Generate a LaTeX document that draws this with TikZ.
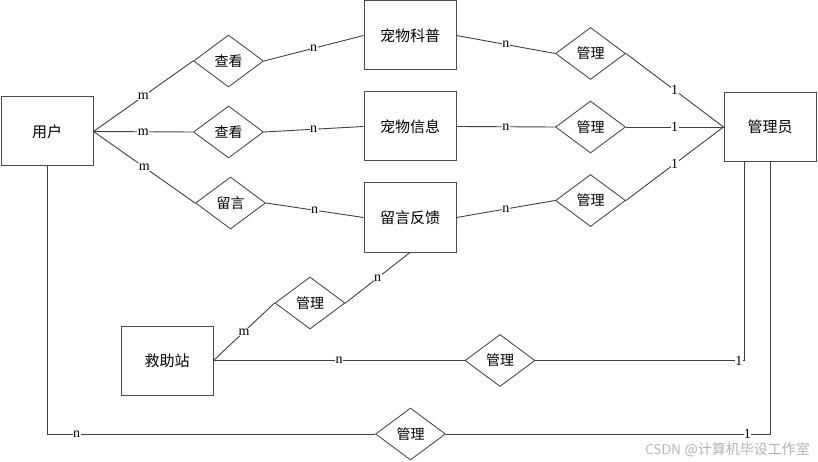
\documentclass[tikz,border=0pt]{standalone}
\usepackage{fontspec}
\setmainfont{Liberation Serif}
\newfontfamily\cjk{Noto Sans CJK SC}
\usetikzlibrary{shapes.geometric}
\begin{document}
\begin{tikzpicture}[x=1pt,y=-1pt,
  ent/.style={draw=black!70,line width=1pt,fill=white,minimum width=92pt,minimum height=69pt,inner sep=0pt,font=\cjk\fontsize{15}{15}\selectfont},
  rel/.style={draw=black!70,line width=0.9pt,shape=diamond,minimum width=70pt,minimum height=52pt,inner sep=0pt,font=\cjk\fontsize{14}{14}\selectfont},
  conn/.style={draw=black!75,line width=0.9pt},
  lab/.style={fill=white,inner sep=0.5pt,font=\fontsize{14}{14}\selectfont}]
\useasboundingbox (0,0) rectangle (818,462);
% entities
\node[ent] (u) at (47,131.5) {用户};
\node[ent] (kp) at (410,35.5) {宠物科普};
\node[ent] (xx) at (410,126.5) {宠物信息};
\node[ent] (fk) at (410,217.5) {留言反馈};
\node[ent] (gly) at (770,127) {管理员};
\node[ent] (jz) at (167,360.5) {救助站};
% relations
\node[rel] (ck1) at (228.5,61) {查看};
\node[rel] (ck2) at (228.5,132) {查看};
\node[rel] (ly) at (230.5,203) {留言};
\node[rel] (gl1) at (590.5,53.5) {管理};
\node[rel] (gl2) at (590.5,127) {管理};
\node[rel] (gl3) at (590.5,200.5) {管理};
\node[rel] (gl4) at (310,303) {管理};
\node[rel] (gl5) at (500,360.5) {管理};
\node[rel] (gl6) at (410.5,434) {管理};
% connectors
\draw[conn] (u.east) -- node[lab]{m} (ck1.west);
\draw[conn] (u.east) -- node[lab]{m} (ck2.west);
\draw[conn] (u.east) -- node[lab]{m} (ly.west);
\draw[conn] (ck1.east) -- node[lab]{n} (kp.west);
\draw[conn] (ck2.east) -- node[lab]{n} (xx.west);
\draw[conn] (ly.east) -- node[lab]{n} (fk.west);
\draw[conn] (kp.east) -- node[lab]{n} (gl1.west);
\draw[conn] (xx.east) -- node[lab]{n} (gl2.west);
\draw[conn] (fk.east) -- node[lab]{n} (gl3.west);
\draw[conn] (gl1.east) -- node[lab]{1} (gly.west);
\draw[conn] (gl2.east) -- node[lab]{1} (gly.west);
\draw[conn] (gl3.east) -- node[lab]{1} (gly.west);
\draw[conn] (jz.east) -- node[lab,pos=0.5]{m} (gl4.west);
\draw[conn] (gl4.east) -- node[lab,pos=0.5]{n} (fk.south);
\coordinate (c1) at (744,360.5);
\draw[conn] (jz.east) -- node[lab]{n} (gl5.west);
\draw[conn] (gl5.east) -- node[lab,pos=0.975]{1} (c1) -- (c1 |- gly.south);
\coordinate (c2) at (47,434);
\coordinate (c3) at (770,434);
\draw[conn] (u.south) -- (c2) -- node[lab,pos=0.09]{n} (gl6.west);
\draw[conn] (gl6.east) -- node[lab,pos=0.93,inner sep=0pt]{1} (c3) -- (gly.south);
% watermark
\node[text=black!30,font=\fontsize{14}{14}\selectfont,anchor=east,inner sep=0pt] (wm) at (810,450) {{\sffamily CSDN} {\cjk @计算机毕设工作室}};
\end{tikzpicture}
\end{document}
